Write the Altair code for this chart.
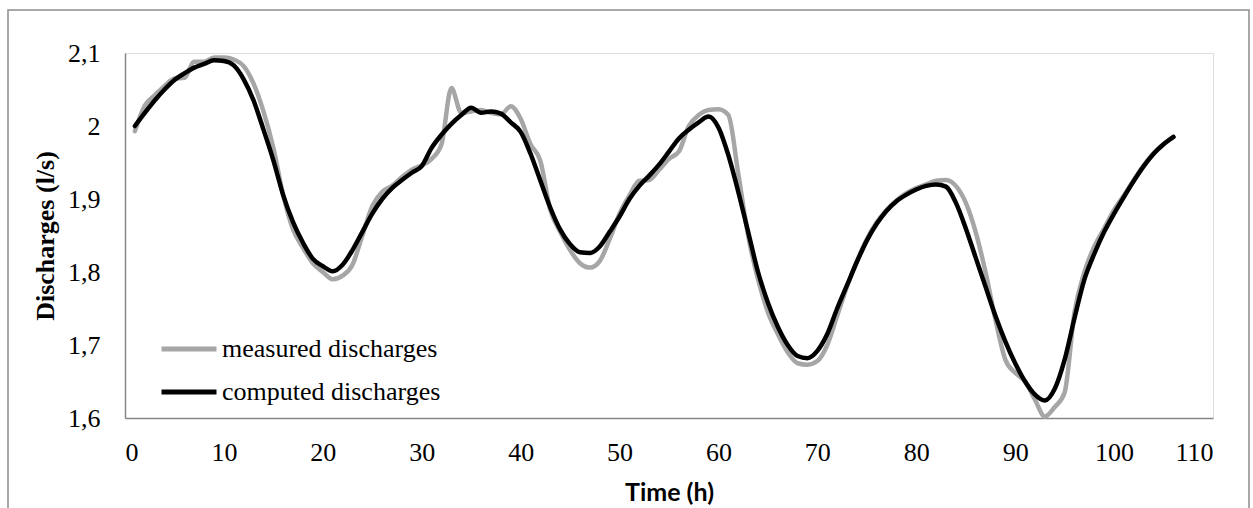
import altair as alt
import pandas as pd

hours = list(range(1, 107))

measured = [
    1.993, 2.028, 2.042, 2.055, 2.065, 2.066, 2.088, 2.088, 2.094, 2.094,
    2.091, 2.082, 2.058, 2.020, 1.970, 1.905, 1.858, 1.833, 1.812, 1.800,
    1.790, 1.795, 1.810, 1.850, 1.890, 1.910, 1.918, 1.930, 1.940, 1.946,
    1.955, 1.975, 2.052, 2.018, 2.020, 2.022, 2.018, 2.016, 2.027, 2.010,
    1.975, 1.952, 1.885, 1.855, 1.830, 1.812, 1.806, 1.815, 1.845, 1.880,
    1.905, 1.925, 1.926, 1.940, 1.955, 1.965, 2.000, 2.015, 2.022, 2.023,
    2.015, 1.935, 1.850, 1.790, 1.745, 1.715, 1.690, 1.675, 1.673, 1.678,
    1.700, 1.740, 1.780, 1.815, 1.845, 1.868, 1.885, 1.898, 1.908, 1.915,
    1.920, 1.925, 1.926, 1.918, 1.895, 1.855, 1.800, 1.735, 1.680, 1.662,
    1.650, 1.625, 1.602, 1.615, 1.635, 1.745, 1.800, 1.835, 1.860, 1.885,
    1.905, 1.926, 1.946, 1.963, 1.975, 1.985,
]

computed = [
    2.000, 2.018, 2.035, 2.050, 2.063, 2.072, 2.080, 2.085, 2.090, 2.089,
    2.083, 2.064, 2.035, 1.995, 1.953, 1.905, 1.868, 1.840, 1.818, 1.808,
    1.801, 1.810, 1.830, 1.855, 1.880, 1.900, 1.915, 1.926, 1.936, 1.945,
    1.970, 1.988, 2.003, 2.015, 2.025, 2.018, 2.020, 2.017, 2.005, 1.992,
    1.962, 1.925, 1.888, 1.858, 1.838, 1.827, 1.826, 1.835, 1.855, 1.876,
    1.900, 1.918, 1.932, 1.947, 1.965, 1.983, 1.995, 2.005, 2.013, 1.998,
    1.960, 1.910, 1.855, 1.800, 1.758, 1.725, 1.700, 1.685, 1.682, 1.692,
    1.715, 1.750, 1.782, 1.814, 1.843, 1.866, 1.884, 1.897, 1.906, 1.913,
    1.918, 1.920, 1.917, 1.895, 1.860, 1.820, 1.780, 1.740, 1.705, 1.675,
    1.650, 1.632, 1.624, 1.640, 1.680, 1.737, 1.790, 1.825, 1.855, 1.880,
    1.903, 1.925, 1.945, 1.962, 1.975, 1.985,
]

series_names = ["measured discharges", "computed discharges"]
series_colors = ["#a6a6a6", "#000000"]
x_ticks = list(range(0, 111, 10))
y_ticks = [1.6, 1.7, 1.8, 1.9, 2.0, 2.1]

df = pd.DataFrame({
    "t": hours + hours,
    "q": measured + computed,
    "series": [series_names[0]] * len(hours) + [series_names[1]] * len(hours),
})

W, H = 1088, 365
SERIF = "Times New Roman, Liberation Serif, DejaVu Serif, serif"

x_enc = alt.X(
    "t:Q",
    scale=alt.Scale(domain=[0, 110], nice=False, zero=False),
    axis=alt.Axis(
        values=x_ticks, title="Time (h)", grid=False, ticks=False,
        labelFont=SERIF, labelFontSize=26, labelColor="black",
        labelPadding=34, labelBaseline="middle",
        domainColor="#868686", domainWidth=1.5,
        titleFont="Lato", titleFontSize=25, titleFontWeight="bold", titleColor="black",
        titleY=74, titleBaseline="middle",
    ),
)
y_enc = alt.Y(
    "q:Q",
    scale=alt.Scale(domain=[1.6, 2.1], nice=False, zero=False),
    axis=alt.Axis(
        values=y_ticks, title="Discharges (l/s)", grid=False, ticks=False,
        labelExpr="replace(toString(round(datum.value*10)/10), '.', ',')",
        labelFont=SERIF, labelFontSize=26, labelColor="black",
        labelPadding=25,
        domainColor="#868686", domainWidth=1.5,
        titleFont=SERIF, titleFontSize=26, titleFontWeight="bold", titleColor="black",
        titleX=-80, titleY=H / 2, titleAngle=270, titleBaseline="middle", titleAlign="center",
    ),
)
color_enc = alt.Color(
    "series:N",
    scale=alt.Scale(domain=series_names, range=series_colors),
    legend=alt.Legend(
        title=None, orient="none", legendX=34, legendY=266,
        symbolType="stroke", symbolSize=3025, symbolStrokeWidth=5,
        labelFont=SERIF, labelFontSize=26, labelColor="black", labelLimit=600,
        labelOffset=3, rowPadding=-3,
    ),
)

base = alt.Chart(df).mark_line(interpolate="monotone", strokeWidth=4.5, strokeCap="round").encode(
    x=x_enc, y=y_enc, color=color_enc
)
measured_line = base.transform_filter(alt.datum.series == series_names[0])
computed_line = base.transform_filter(alt.datum.series == series_names[1])

frame = alt.Chart(pd.DataFrame({"k": [0]})).mark_rect(
    fill="transparent", stroke="#8c8c8c", strokeWidth=1.5
).encode(
    x=alt.value(-117), x2=alt.value(1124), y=alt.value(-43), y2=alt.value(470)
)

chart = alt.layer(frame, measured_line, computed_line).properties(
    width=W, height=H,
    autosize=alt.AutoSizeParams(type="none"),
    padding={"left": 125, "top": 53, "right": 40, "bottom": 90},
).configure_view(strokeWidth=0).configure(background="white")

chart.save("out.html", embed_options={"renderer": "svg", "actions": False})
